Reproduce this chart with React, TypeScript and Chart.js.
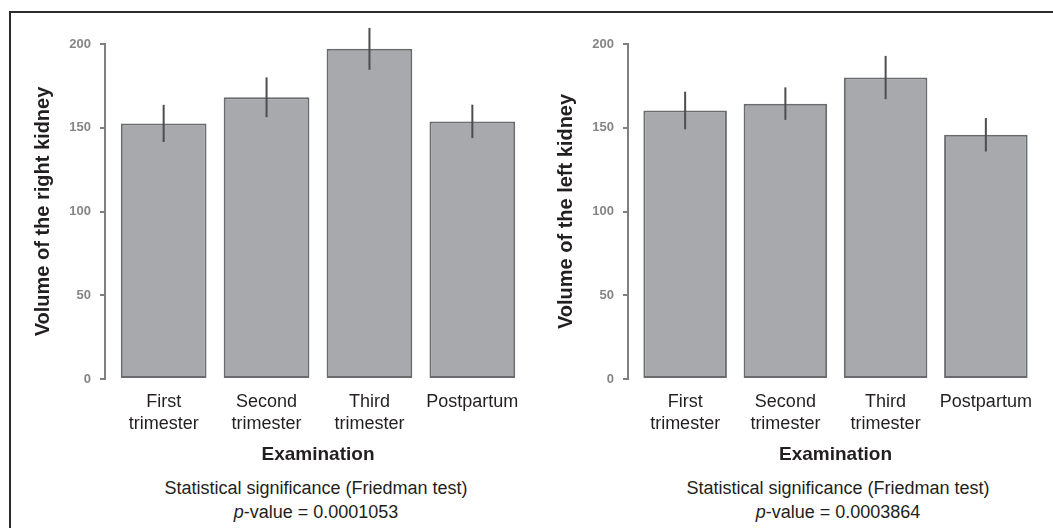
import React, { useEffect, useRef } from "react";
import { Chart, registerables } from "chart.js";

Chart.register(...registerables);

// ---------- data ----------
const categories: string[][] = [
  ["First", "trimester"],
  ["Second", "trimester"],
  ["Third", "trimester"],
  ["Postpartum"],
];
const rightKidneyMeans = [152.6, 168.2, 197.1, 153.8];
const rightKidneyErrors = [11.1, 11.9, 12.5, 10.0];
const leftKidneyMeans = [160.3, 164.4, 180.0, 145.8];
const leftKidneyErrors = [11.2, 9.7, 12.9, 10.0];
const yTickStep = 50;
const yMax = 200;
const xTitle = "Examination";
const statsTitle = "Statistical significance (Friedman test)";
const rightPValue = "0.0001053";
const leftPValue = "0.0003864";

// R barplot-like layout (width 1, space 0.2, 4% axis extension)
const SPACE = 0.2;
const centers = categories.map((_, i) => SPACE + i * (1 + SPACE) + 0.5);
const rawLeft = SPACE;
const rawRight = categories.length * (1 + SPACE);
const ext = (rawRight - rawLeft) * 0.04;
const xMin = rawLeft - ext;
const xMax = rawRight + ext;

const FONT = "'Liberation Sans', Arial, sans-serif";
const TEXT = "#231f20";

const errorBarPlugin = {
  id: "errorBars",
  afterDatasetsDraw(chart: any, _args: any, opts: any) {
    const { ctx } = chart;
    const meta = chart.getDatasetMeta(0);
    const yScale = chart.scales.y;
    const ds = chart.data.datasets[0];
    const errs: number[] = opts.errors || [];
    ctx.save();
    ctx.strokeStyle = opts.color;
    ctx.lineWidth = opts.width;
    meta.data.forEach((bar: any, i: number) => {
      const v = ds.data[i].y;
      const e = errs[i];
      const y1 = yScale.getPixelForValue(v + e);
      const y2 = yScale.getPixelForValue(v - e);
      ctx.beginPath();
      ctx.moveTo(bar.x, y1);
      ctx.lineTo(bar.x, y2);
      ctx.stroke();
    });
    ctx.restore();
  },
};

type PanelProps = {
  means: number[];
  errors: number[];
  yTitle: string;
  left: number;
  width: number;
  padRight: number;
};

function Panel({ means, errors, yTitle, left, width, padRight }: PanelProps) {
  const ref = useRef<HTMLCanvasElement | null>(null);
  useEffect(() => {
    if (!ref.current) return;
    const chart = new Chart(ref.current, {
      type: "bar",
      data: {
        datasets: [
          {
            data: means.map((m, i) => ({ x: centers[i], y: m })),
            backgroundColor: "#a7a9ac",
            borderColor: "#6a6b6e",
            borderWidth: 2,
            borderSkipped: false,
            barPercentage: 1 / (1 + SPACE),
            categoryPercentage: 1,
            clip: false,
          } as any,
        ],
      },
      options: {
        responsive: false,
        animation: false,
        layout: { padding: { top: 24, right: padRight, bottom: 0, left: 0 } },
        plugins: {
          legend: { display: false },
          tooltip: { enabled: false },
          errorBars: { errors, color: "#4d4d4f", width: 2 },
        } as any,
        scales: {
          x: {
            type: "linear",
            min: xMin,
            max: xMax,
            offset: false,
            grid: { display: false, drawTicks: false },
            border: { display: false },
            afterBuildTicks: (s: any) => {
              s.ticks = centers.map((v) => ({ value: v }));
            },
            afterFit: (s: any) => {
              s.height = 91;
            },
            ticks: {
              autoSkip: false,
              maxRotation: 0,
              minRotation: 0,
              padding: 12,
              color: TEXT,
              font: { family: FONT, size: 18, lineHeight: 1.22 },
              callback: (_v: any, i: number) => categories[i],
            },
            title: {
              display: true,
              text: xTitle,
              color: TEXT,
              font: { family: FONT, size: 19, weight: "bold", lineHeight: 1.2 },
              padding: { top: 0, bottom: 4 },
            },
          } as any,
          y: {
            min: 0,
            max: yMax,
            ticks: {
              stepSize: yTickStep,
              padding: 9,
              color: "#858585",
              font: { family: FONT, size: 13, weight: "bold" },
            },
            grid: {
              drawOnChartArea: false,
              drawTicks: true,
              tickLength: 5,
              color: "#808080",
              lineWidth: 2,
            },
            border: { display: true, color: "#808080", width: 2 },
            afterFit: (s: any) => {
              s.width = 93;
            },
            title: {
              display: true,
              text: yTitle,
              color: TEXT,
              font: { family: FONT, size: 20, weight: "bold", lineHeight: 1.2 },
              padding: { top: 19, bottom: 0 },
            },
          } as any,
        },
      },
      plugins: [errorBarPlugin as any],
    });
    return () => chart.destroy();
  }, []);
  return (
    <canvas
      ref={ref}
      width={width}
      height={450}
      style={{ position: "absolute", left, top: 20, width, height: 450, display: "block" }}
    />
  );
}

function Stats({ center, pValue }: { center: number; pValue: string }) {
  return (
    <div
      style={{
        position: "absolute",
        left: center - 200,
        top: 476,
        width: 400,
        textAlign: "center",
        fontFamily: FONT,
        fontSize: 18,
        lineHeight: "24px",
        color: TEXT,
      }}
    >
      <div>{statsTitle}</div>
      <div>
        <i>p</i>-value = {pValue}
      </div>
    </div>
  );
}

export default function App() {
  return (
    <div
      style={{
        position: "absolute",
        left: 0,
        top: 0,
        width: 1053,
        height: 528,
        overflow: "hidden",
        background: "#ffffff",
      }}
    >
      <div
        style={{
          position: "absolute",
          left: 9,
          top: 11,
          width: 1200,
          height: 700,
          borderLeft: "2px solid #2b2b2b",
          borderTop: "2px solid #2b2b2b",
        }}
      />
      <Panel
        means={rightKidneyMeans}
        errors={rightKidneyErrors}
        yTitle="Volume of the right kidney"
        left={12}
        width={522}
        padRight={3}
      />
      <Panel
        means={leftKidneyMeans}
        errors={leftKidneyErrors}
        yTitle="Volume of the left kidney"
        left={535}
        width={518}
        padRight={10}
      />
      <Stats center={316} pValue={rightPValue} />
      <Stats center={838} pValue={leftPValue} />
    </div>
  );
}
